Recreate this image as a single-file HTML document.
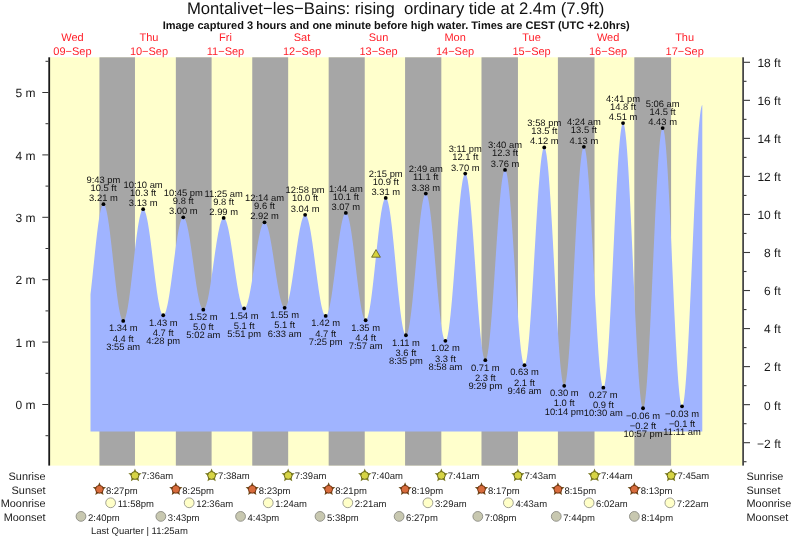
<!DOCTYPE html>
<html><head><meta charset="utf-8"><style>
html,body{margin:0;padding:0;background:#fff;width:793px;height:539px;overflow:hidden}
svg{display:block;will-change:transform}
text{font-family:"Liberation Sans",sans-serif;fill:#222;text-rendering:geometricPrecision}
.title{font-size:16.7px;fill:#111;white-space:pre}
.sub{font-size:11px;font-weight:bold;fill:#111}
.day{font-size:11px;fill:#ff1e28}
.ax{font-size:12px;fill:#1a1a1a}
.tl{font-size:9.4px;fill:#111}
.rl{font-size:10.9px;fill:#222}
.bt{font-size:9.5px;fill:#222}
</style></head><body>
<svg width="793" height="539" viewBox="0 0 793 539">
<rect x="50" y="57.3" width="692.5" height="408.3" fill="#ffffcc"/>
<rect x="99.42" y="57.3" width="35.55" height="408.3" fill="#a6a6a6"/>
<rect x="175.84" y="57.3" width="35.76" height="408.3" fill="#a6a6a6"/>
<rect x="252.25" y="57.3" width="35.92" height="408.3" fill="#a6a6a6"/>
<rect x="328.66" y="57.3" width="36.08" height="408.3" fill="#a6a6a6"/>
<rect x="405.08" y="57.3" width="36.24" height="408.3" fill="#a6a6a6"/>
<rect x="481.49" y="57.3" width="36.45" height="408.3" fill="#a6a6a6"/>
<rect x="557.90" y="57.3" width="36.61" height="408.3" fill="#a6a6a6"/>
<rect x="634.32" y="57.3" width="36.77" height="408.3" fill="#a6a6a6"/>
<path d="M90.50,431.6 L90.50,294.17 L90.94,290.42 L91.37,286.53 L91.81,282.54 L92.25,278.45 L92.69,274.30 L93.12,270.10 L93.56,265.87 L94.00,261.63 L94.43,257.40 L94.87,253.22 L95.31,249.08 L95.74,245.02 L96.18,241.06 L96.62,237.22 L97.05,233.50 L97.49,229.95 L97.93,226.56 L98.37,223.36 L98.80,220.36 L99.24,217.58 L99.68,215.04 L100.11,212.73 L100.55,210.69 L100.99,208.91 L101.42,207.40 L101.86,206.18 L102.30,205.25 L102.74,204.61 L103.17,204.26 L103.61,204.21 L104.05,204.45 L104.48,204.97 L104.92,205.76 L105.36,206.83 L105.79,208.17 L106.23,209.77 L106.67,211.62 L107.11,213.72 L107.54,216.05 L107.98,218.61 L108.42,221.38 L108.85,224.35 L109.29,227.51 L109.73,230.83 L110.16,234.30 L110.60,237.91 L111.04,241.64 L111.48,245.47 L111.91,249.39 L112.35,253.36 L112.79,257.38 L113.22,261.43 L113.66,265.48 L114.10,269.52 L114.53,273.52 L114.97,277.47 L115.41,281.35 L115.85,285.13 L116.28,288.81 L116.72,292.36 L117.16,295.77 L117.59,299.02 L118.03,302.09 L118.47,304.97 L118.91,307.65 L119.34,310.11 L119.78,312.34 L120.22,314.33 L120.65,316.07 L121.09,317.55 L121.53,318.77 L121.96,319.71 L122.40,320.38 L122.84,320.77 L123.28,320.88 L123.71,320.72 L124.15,320.30 L124.59,319.61 L125.02,318.66 L125.46,317.46 L125.90,316.01 L126.33,314.32 L126.77,312.39 L127.21,310.24 L127.64,307.88 L128.08,305.31 L128.52,302.55 L128.96,299.62 L129.39,296.51 L129.83,293.26 L130.27,289.88 L130.70,286.38 L131.14,282.77 L131.58,279.09 L132.01,275.33 L132.45,271.53 L132.89,267.70 L133.33,263.85 L133.76,260.01 L134.20,256.19 L134.64,252.42 L135.07,248.70 L135.51,245.06 L135.95,241.52 L136.38,238.09 L136.82,234.79 L137.26,231.63 L137.70,228.62 L138.13,225.80 L138.57,223.15 L139.01,220.71 L139.44,218.48 L139.88,216.46 L140.32,214.68 L140.75,213.14 L141.19,211.84 L141.63,210.80 L142.07,210.01 L142.50,209.48 L142.94,209.22 L143.38,209.22 L143.81,209.47 L144.25,209.97 L144.69,210.71 L145.12,211.69 L145.56,212.90 L146.00,214.35 L146.44,216.02 L146.87,217.91 L147.31,220.00 L147.75,222.29 L148.18,224.77 L148.62,227.42 L149.06,230.23 L149.50,233.20 L149.93,236.30 L150.37,239.52 L150.81,242.84 L151.24,246.26 L151.68,249.75 L152.12,253.30 L152.55,256.89 L152.99,260.51 L153.43,264.14 L153.87,267.75 L154.30,271.34 L154.74,274.89 L155.18,278.38 L155.61,281.79 L156.05,285.11 L156.49,288.33 L156.92,291.42 L157.36,294.37 L157.80,297.18 L158.23,299.82 L158.67,302.29 L159.11,304.57 L159.55,306.65 L159.98,308.53 L160.42,310.19 L160.86,311.62 L161.29,312.83 L161.73,313.80 L162.17,314.52 L162.60,315.01 L163.04,315.24 L163.48,315.23 L163.92,314.99 L164.35,314.53 L164.79,313.83 L165.23,312.91 L165.66,311.77 L166.10,310.42 L166.54,308.87 L166.97,307.11 L167.41,305.16 L167.85,303.03 L168.29,300.72 L168.72,298.26 L169.16,295.64 L169.60,292.89 L170.03,290.01 L170.47,287.02 L170.91,283.93 L171.34,280.76 L171.78,277.52 L172.22,274.23 L172.66,270.90 L173.09,267.55 L173.53,264.19 L173.97,260.85 L174.40,257.53 L174.84,254.25 L175.28,251.02 L175.72,247.87 L176.15,244.81 L176.59,241.84 L177.03,238.99 L177.46,236.27 L177.90,233.69 L178.34,231.26 L178.77,229.00 L179.21,226.91 L179.65,225.01 L180.08,223.30 L180.52,221.79 L180.96,220.49 L181.40,219.41 L181.83,218.55 L182.27,217.91 L182.71,217.49 L183.14,217.31 L183.58,217.35 L184.02,217.61 L184.45,218.09 L184.89,218.78 L185.33,219.68 L185.77,220.78 L186.20,222.08 L186.64,223.58 L187.08,225.27 L187.51,227.13 L187.95,229.17 L188.39,231.37 L188.82,233.71 L189.26,236.20 L189.70,238.82 L190.14,241.55 L190.57,244.38 L191.01,247.31 L191.45,250.31 L191.88,253.37 L192.32,256.48 L192.76,259.62 L193.19,262.78 L193.63,265.94 L194.07,269.09 L194.51,272.22 L194.94,275.30 L195.38,278.33 L195.82,281.29 L196.25,284.17 L196.69,286.94 L197.13,289.61 L197.56,292.16 L198.00,294.57 L198.44,296.83 L198.88,298.94 L199.31,300.88 L199.75,302.65 L200.19,304.23 L200.62,305.62 L201.06,306.81 L201.50,307.80 L201.93,308.59 L202.37,309.16 L202.81,309.51 L203.25,309.65 L203.68,309.58 L204.12,309.29 L204.56,308.80 L204.99,308.11 L205.43,307.21 L205.87,306.12 L206.30,304.83 L206.74,303.36 L207.18,301.70 L207.62,299.88 L208.05,297.89 L208.49,295.74 L208.93,293.45 L209.36,291.03 L209.80,288.48 L210.24,285.82 L210.67,283.06 L211.11,280.21 L211.55,277.28 L211.99,274.30 L212.42,271.27 L212.86,268.20 L213.30,265.11 L213.73,262.02 L214.17,258.93 L214.61,255.87 L215.04,252.84 L215.48,249.87 L215.92,246.95 L216.36,244.12 L216.79,241.37 L217.23,238.72 L217.67,236.19 L218.10,233.78 L218.54,231.51 L218.98,229.39 L219.41,227.42 L219.85,225.62 L220.29,223.99 L220.73,222.55 L221.16,221.29 L221.60,220.22 L222.04,219.36 L222.47,218.69 L222.91,218.23 L223.35,217.98 L223.78,217.93 L224.22,218.09 L224.66,218.45 L225.10,219.01 L225.53,219.77 L225.97,220.73 L226.41,221.87 L226.84,223.20 L227.28,224.70 L227.72,226.38 L228.15,228.23 L228.59,230.23 L229.03,232.38 L229.47,234.66 L229.90,237.08 L230.34,239.61 L230.78,242.24 L231.21,244.97 L231.65,247.78 L232.09,250.66 L232.52,253.60 L232.96,256.58 L233.40,259.59 L233.84,262.61 L234.27,265.64 L234.71,268.65 L235.15,271.64 L235.58,274.60 L236.02,277.50 L236.46,280.34 L236.89,283.10 L237.33,285.77 L237.77,288.34 L238.21,290.80 L238.64,293.13 L239.08,295.33 L239.52,297.39 L239.95,299.29 L240.39,301.03 L240.83,302.60 L241.26,303.99 L241.70,305.21 L242.14,306.23 L242.58,307.06 L243.01,307.69 L243.45,308.13 L243.89,308.36 L244.32,308.39 L244.76,308.23 L245.20,307.86 L245.63,307.31 L246.07,306.56 L246.51,305.63 L246.95,304.52 L247.38,303.22 L247.82,301.76 L248.26,300.12 L248.69,298.33 L249.13,296.39 L249.57,294.31 L250.00,292.10 L250.44,289.76 L250.88,287.32 L251.32,284.77 L251.75,282.14 L252.19,279.43 L252.63,276.65 L253.06,273.82 L253.50,270.96 L253.94,268.07 L254.38,265.17 L254.81,262.27 L255.25,259.38 L255.69,256.52 L256.12,253.70 L256.56,250.93 L257.00,248.23 L257.43,245.60 L257.87,243.07 L258.31,240.64 L258.74,238.32 L259.18,236.12 L259.62,234.05 L260.06,232.13 L260.49,230.36 L260.93,228.75 L261.37,227.30 L261.80,226.03 L262.24,224.94 L262.68,224.03 L263.11,223.31 L263.55,222.78 L263.99,222.44 L264.43,222.30 L264.86,222.35 L265.30,222.60 L265.74,223.05 L266.17,223.70 L266.61,224.54 L267.05,225.56 L267.48,226.77 L267.92,228.16 L268.36,229.72 L268.80,231.44 L269.23,233.31 L269.67,235.34 L270.11,237.50 L270.54,239.79 L270.98,242.20 L271.42,244.72 L271.86,247.33 L272.29,250.02 L272.73,252.78 L273.17,255.59 L273.60,258.46 L274.04,261.35 L274.48,264.26 L274.91,267.17 L275.35,270.07 L275.79,272.95 L276.22,275.80 L276.66,278.59 L277.10,281.32 L277.54,283.97 L277.97,286.54 L278.41,289.00 L278.85,291.36 L279.28,293.59 L279.72,295.69 L280.16,297.65 L280.59,299.46 L281.03,301.10 L281.47,302.58 L281.91,303.89 L282.34,305.01 L282.78,305.95 L283.22,306.70 L283.65,307.25 L284.09,307.61 L284.53,307.77 L284.96,307.73 L285.40,307.48 L285.84,307.02 L286.28,306.36 L286.71,305.50 L287.15,304.43 L287.59,303.17 L288.02,301.73 L288.46,300.10 L288.90,298.29 L289.33,296.32 L289.77,294.20 L290.21,291.92 L290.65,289.51 L291.08,286.96 L291.52,284.31 L291.96,281.55 L292.39,278.70 L292.83,275.77 L293.27,272.77 L293.70,269.72 L294.14,266.64 L294.58,263.53 L295.02,260.41 L295.45,257.30 L295.89,254.20 L296.33,251.14 L296.76,248.12 L297.20,245.16 L297.64,242.27 L298.07,239.47 L298.51,236.77 L298.95,234.17 L299.39,231.70 L299.82,229.36 L300.26,227.17 L300.70,225.13 L301.13,223.25 L301.57,221.55 L302.01,220.02 L302.44,218.68 L302.88,217.53 L303.32,216.57 L303.76,215.82 L304.19,215.28 L304.63,214.94 L305.07,214.81 L305.50,214.89 L305.94,215.20 L306.38,215.73 L306.81,216.48 L307.25,217.46 L307.69,218.64 L308.13,220.03 L308.56,221.63 L309.00,223.42 L309.44,225.39 L309.87,227.55 L310.31,229.87 L310.75,232.35 L311.18,234.98 L311.62,237.74 L312.06,240.63 L312.50,243.62 L312.93,246.72 L313.37,249.89 L313.81,253.14 L314.24,256.43 L314.68,259.77 L315.12,263.14 L315.55,266.51 L315.99,269.88 L316.43,273.23 L316.87,276.54 L317.30,279.80 L317.74,283.00 L318.18,286.12 L318.61,289.15 L319.05,292.07 L319.49,294.87 L319.92,297.54 L320.36,300.07 L320.80,302.44 L321.24,304.65 L321.67,306.68 L322.11,308.53 L322.55,310.19 L322.98,311.64 L323.42,312.89 L323.86,313.93 L324.29,314.75 L324.73,315.36 L325.17,315.73 L325.61,315.89 L326.04,315.81 L326.48,315.50 L326.92,314.95 L327.35,314.16 L327.79,313.14 L328.23,311.90 L328.66,310.44 L329.10,308.76 L329.54,306.87 L329.98,304.79 L330.41,302.52 L330.85,300.08 L331.29,297.47 L331.72,294.70 L332.16,291.80 L332.60,288.76 L333.03,285.62 L333.47,282.37 L333.91,279.04 L334.35,275.65 L334.78,272.20 L335.22,268.72 L335.66,265.21 L336.09,261.70 L336.53,258.21 L336.97,254.74 L337.40,251.32 L337.84,247.96 L338.28,244.67 L338.72,241.48 L339.15,238.40 L339.59,235.43 L340.03,232.60 L340.46,229.92 L340.90,227.39 L341.34,225.04 L341.77,222.88 L342.21,220.90 L342.65,219.13 L343.09,217.56 L343.52,216.22 L343.96,215.10 L344.40,214.21 L344.83,213.55 L345.27,213.13 L345.71,212.94 L346.14,213.00 L346.58,213.32 L347.02,213.89 L347.46,214.71 L347.89,215.79 L348.33,217.10 L348.77,218.66 L349.20,220.44 L349.64,222.45 L350.08,224.66 L350.51,227.08 L350.95,229.69 L351.39,232.47 L351.83,235.42 L352.26,238.52 L352.70,241.75 L353.14,245.10 L353.57,248.56 L354.01,252.10 L354.45,255.71 L354.88,259.37 L355.32,263.07 L355.76,266.78 L356.20,270.50 L356.63,274.19 L357.07,277.85 L357.51,281.46 L357.94,284.99 L358.38,288.43 L358.82,291.77 L359.25,294.99 L359.69,298.08 L360.13,301.01 L360.57,303.78 L361.00,306.37 L361.44,308.76 L361.88,310.96 L362.31,312.94 L362.75,314.70 L363.19,316.23 L363.62,317.53 L364.06,318.57 L364.50,319.37 L364.94,319.92 L365.37,320.21 L365.81,320.24 L366.25,319.99 L366.68,319.46 L367.12,318.64 L367.56,317.55 L367.99,316.18 L368.43,314.55 L368.87,312.66 L369.31,310.52 L369.74,308.14 L370.18,305.53 L370.62,302.70 L371.05,299.67 L371.49,296.45 L371.93,293.05 L372.36,289.50 L372.80,285.80 L373.24,281.98 L373.68,278.06 L374.11,274.04 L374.55,269.96 L374.99,265.82 L375.42,261.66 L375.86,257.48 L376.30,253.31 L376.73,249.16 L377.17,245.06 L377.61,241.03 L378.05,237.09 L378.48,233.24 L378.92,229.52 L379.36,225.93 L379.79,222.50 L380.23,219.24 L380.67,216.17 L381.10,213.29 L381.54,210.63 L381.98,208.20 L382.42,206.01 L382.85,204.06 L383.29,202.37 L383.73,200.94 L384.16,199.79 L384.60,198.91 L385.04,198.32 L385.47,198.01 L385.91,197.98 L386.35,198.27 L386.79,198.87 L387.22,199.79 L387.66,201.02 L388.10,202.54 L388.53,204.37 L388.97,206.48 L389.41,208.87 L389.84,211.52 L390.28,214.44 L390.72,217.59 L391.16,220.97 L391.59,224.55 L392.03,228.34 L392.47,232.30 L392.90,236.42 L393.34,240.67 L393.78,245.05 L394.21,249.53 L394.65,254.08 L395.09,258.70 L395.53,263.35 L395.96,268.01 L396.40,272.67 L396.84,277.30 L397.27,281.89 L397.71,286.40 L398.15,290.82 L398.58,295.12 L399.02,299.30 L399.46,303.32 L399.90,307.18 L400.33,310.84 L400.77,314.31 L401.21,317.55 L401.64,320.56 L402.08,323.31 L402.52,325.81 L402.95,328.03 L403.39,329.97 L403.83,331.61 L404.27,332.96 L404.70,334.00 L405.14,334.72 L405.58,335.13 L406.01,335.23 L406.45,334.99 L406.89,334.42 L407.32,333.51 L407.76,332.28 L408.20,330.72 L408.64,328.84 L409.07,326.65 L409.51,324.17 L409.95,321.41 L410.38,318.37 L410.82,315.07 L411.26,311.54 L411.69,307.78 L412.13,303.81 L412.57,299.65 L413.01,295.33 L413.44,290.85 L413.88,286.26 L414.32,281.55 L414.75,276.77 L415.19,271.93 L415.63,267.05 L416.06,262.16 L416.50,257.28 L416.94,252.43 L417.38,247.64 L417.81,242.93 L418.25,238.32 L418.69,233.84 L419.12,229.50 L419.56,225.33 L420.00,221.35 L420.43,217.57 L420.87,214.02 L421.31,210.70 L421.75,207.64 L422.18,204.86 L422.62,202.35 L423.06,200.14 L423.49,198.24 L423.93,196.66 L424.37,195.40 L424.80,194.46 L425.24,193.86 L425.68,193.60 L426.12,193.68 L426.55,194.12 L426.99,194.92 L427.43,196.07 L427.86,197.58 L428.30,199.42 L428.74,201.59 L429.17,204.09 L429.61,206.90 L430.05,210.00 L430.49,213.38 L430.92,217.03 L431.36,220.92 L431.80,225.04 L432.23,229.36 L432.67,233.87 L433.11,238.55 L433.54,243.36 L433.98,248.29 L434.42,253.32 L434.86,258.41 L435.29,263.55 L435.73,268.70 L436.17,273.85 L436.60,278.96 L437.04,284.02 L437.48,288.99 L437.91,293.86 L438.35,298.59 L438.79,303.18 L439.23,307.59 L439.66,311.79 L440.10,315.79 L440.54,319.54 L440.97,323.03 L441.41,326.26 L441.85,329.19 L442.28,331.82 L442.72,334.13 L443.16,336.12 L443.60,337.77 L444.03,339.07 L444.47,340.02 L444.91,340.61 L445.34,340.85 L445.78,340.71 L446.22,340.17 L446.65,339.23 L447.09,337.89 L447.53,336.17 L447.97,334.08 L448.40,331.61 L448.84,328.79 L449.28,325.62 L449.71,322.13 L450.15,318.32 L450.59,314.22 L451.02,309.85 L451.46,305.23 L451.90,300.38 L452.34,295.31 L452.77,290.07 L453.21,284.67 L453.65,279.14 L454.08,273.50 L454.52,267.79 L454.96,262.02 L455.39,256.23 L455.83,250.45 L456.27,244.69 L456.71,239.00 L457.14,233.40 L457.58,227.91 L458.02,222.56 L458.45,217.38 L458.89,212.39 L459.33,207.61 L459.76,203.07 L460.20,198.79 L460.64,194.79 L461.08,191.09 L461.51,187.71 L461.95,184.66 L462.39,181.96 L462.82,179.62 L463.26,177.66 L463.70,176.07 L464.13,174.88 L464.57,174.07 L465.01,173.67 L465.45,173.67 L465.88,174.11 L466.32,174.97 L466.76,176.27 L467.19,177.99 L467.63,180.12 L468.07,182.66 L468.50,185.60 L468.94,188.91 L469.38,192.59 L469.82,196.61 L470.25,200.96 L470.69,205.62 L471.13,210.57 L471.56,215.78 L472.00,221.23 L472.44,226.89 L472.87,232.74 L473.31,238.75 L473.75,244.89 L474.19,251.13 L474.62,257.44 L475.06,263.80 L475.50,270.18 L475.93,276.54 L476.37,282.85 L476.81,289.09 L477.24,295.23 L477.68,301.23 L478.12,307.08 L478.56,312.73 L478.99,318.18 L479.43,323.38 L479.87,328.32 L480.30,332.97 L480.74,337.32 L481.18,341.33 L481.61,345.00 L482.05,348.30 L482.49,351.22 L482.93,353.75 L483.36,355.88 L483.80,357.59 L484.24,358.87 L484.67,359.73 L485.11,360.15 L485.55,360.13 L485.98,359.66 L486.42,358.72 L486.86,357.33 L487.30,355.50 L487.73,353.22 L488.17,350.52 L488.61,347.41 L489.04,343.89 L489.48,339.99 L489.92,335.73 L490.35,331.13 L490.79,326.21 L491.23,320.99 L491.67,315.50 L492.10,309.76 L492.54,303.81 L492.98,297.67 L493.41,291.37 L493.85,284.94 L494.29,278.42 L494.72,271.83 L495.16,265.21 L495.60,258.59 L496.04,251.99 L496.47,245.47 L496.91,239.04 L497.35,232.73 L497.78,226.58 L498.22,220.62 L498.66,214.87 L499.09,209.36 L499.53,204.13 L499.97,199.19 L500.41,194.57 L500.84,190.29 L501.28,186.37 L501.72,182.84 L502.15,179.70 L502.59,176.98 L503.03,174.68 L503.46,172.82 L503.90,171.41 L504.34,170.45 L504.78,169.95 L505.21,169.92 L505.65,170.36 L506.09,171.29 L506.52,172.70 L506.96,174.59 L507.40,176.93 L507.83,179.73 L508.27,182.96 L508.71,186.61 L509.15,190.67 L509.58,195.11 L510.02,199.91 L510.46,205.05 L510.89,210.50 L511.33,216.23 L511.77,222.22 L512.20,228.44 L512.64,234.84 L513.08,241.42 L513.52,248.12 L513.95,254.92 L514.39,261.78 L514.83,268.67 L515.26,275.55 L515.70,282.40 L516.14,289.17 L516.57,295.83 L517.01,302.35 L517.45,308.70 L517.89,314.84 L518.32,320.75 L518.76,326.39 L519.20,331.74 L519.63,336.77 L520.07,341.46 L520.51,345.77 L520.94,349.70 L521.38,353.22 L521.82,356.31 L522.26,358.96 L522.69,361.15 L523.13,362.88 L523.57,364.13 L524.00,364.90 L524.44,365.19 L524.88,364.97 L525.31,364.23 L525.75,362.97 L526.19,361.19 L526.63,358.91 L527.06,356.14 L527.50,352.88 L527.94,349.16 L528.37,344.99 L528.81,340.39 L529.25,335.39 L529.68,330.00 L530.12,324.26 L530.56,318.19 L531.00,311.83 L531.43,305.19 L531.87,298.33 L532.31,291.25 L532.74,284.01 L533.18,276.64 L533.62,269.17 L534.05,261.63 L534.49,254.07 L534.93,246.52 L535.37,239.02 L535.80,231.60 L536.24,224.30 L536.68,217.16 L537.11,210.20 L537.55,203.46 L537.99,196.99 L538.42,190.79 L538.86,184.91 L539.30,179.38 L539.74,174.22 L540.17,169.45 L540.61,165.10 L541.05,161.19 L541.48,157.74 L541.92,154.77 L542.36,152.28 L542.79,150.30 L543.23,148.83 L543.67,147.87 L544.11,147.44 L544.54,147.54 L544.98,148.20 L545.42,149.42 L545.85,151.20 L546.29,153.51 L546.73,156.37 L547.16,159.74 L547.60,163.61 L548.04,167.98 L548.48,172.80 L548.91,178.07 L549.35,183.76 L549.79,189.84 L550.22,196.28 L550.66,203.06 L551.10,210.13 L551.53,217.47 L551.97,225.04 L552.41,232.81 L552.85,240.73 L553.28,248.78 L553.72,256.92 L554.16,265.09 L554.59,273.28 L555.03,281.43 L555.47,289.52 L555.90,297.49 L556.34,305.32 L556.78,312.97 L557.22,320.40 L557.65,327.57 L558.09,334.46 L558.53,341.03 L558.96,347.24 L559.40,353.08 L559.84,358.50 L560.27,363.50 L560.71,368.03 L561.15,372.09 L561.59,375.65 L562.02,378.69 L562.46,381.21 L562.90,383.18 L563.33,384.61 L563.77,385.47 L564.21,385.78 L564.64,385.51 L565.08,384.67 L565.52,383.24 L565.96,381.25 L566.39,378.70 L566.83,375.59 L567.27,371.96 L567.70,367.81 L568.14,363.17 L568.58,358.05 L569.01,352.49 L569.45,346.50 L569.89,340.13 L570.33,333.39 L570.76,326.33 L571.20,318.98 L571.64,311.36 L572.07,303.53 L572.51,295.52 L572.95,287.37 L573.38,279.11 L573.82,270.79 L574.26,262.45 L574.70,254.12 L575.13,245.86 L575.57,237.69 L576.01,229.67 L576.44,221.82 L576.88,214.19 L577.32,206.82 L577.75,199.73 L578.19,192.97 L578.63,186.56 L579.07,180.55 L579.50,174.95 L579.94,169.79 L580.38,165.11 L580.81,160.92 L581.25,157.24 L581.69,154.10 L582.12,151.50 L582.56,149.46 L583.00,147.99 L583.44,147.10 L583.87,146.79 L584.31,147.07 L584.75,147.94 L585.18,149.41 L585.62,151.47 L586.06,154.11 L586.50,157.30 L586.93,161.05 L587.37,165.32 L587.81,170.10 L588.24,175.37 L588.68,181.09 L589.12,187.24 L589.55,193.79 L589.99,200.71 L590.43,207.96 L590.87,215.50 L591.30,223.30 L591.74,231.32 L592.18,239.51 L592.61,247.85 L593.05,256.28 L593.49,264.77 L593.92,273.27 L594.36,281.73 L594.80,290.13 L595.24,298.41 L595.67,306.54 L596.11,314.47 L596.55,322.17 L596.98,329.59 L597.42,336.70 L597.86,343.46 L598.29,349.85 L598.73,355.82 L599.17,361.35 L599.60,366.42 L600.04,370.99 L600.48,375.04 L600.92,378.56 L601.35,381.52 L601.79,383.91 L602.23,385.72 L602.66,386.94 L603.10,387.56 L603.54,387.58 L603.97,386.97 L604.41,385.72 L604.85,383.83 L605.29,381.33 L605.72,378.21 L606.16,374.50 L606.60,370.20 L607.03,365.36 L607.47,359.98 L607.91,354.09 L608.34,347.72 L608.78,340.91 L609.22,333.68 L609.66,326.07 L610.09,318.12 L610.53,309.87 L610.97,301.35 L611.40,292.60 L611.84,283.68 L612.28,274.62 L612.72,265.47 L613.15,256.27 L613.59,247.06 L614.03,237.89 L614.46,228.81 L614.90,219.86 L615.34,211.08 L615.77,202.51 L616.21,194.20 L616.65,186.19 L617.09,178.51 L617.52,171.20 L617.96,164.30 L618.40,157.85 L618.83,151.86 L619.27,146.38 L619.71,141.43 L620.14,137.03 L620.58,133.20 L621.02,129.96 L621.45,127.34 L621.89,125.33 L622.33,123.95 L622.77,123.21 L623.20,123.12 L623.64,123.68 L624.08,124.92 L624.51,126.83 L624.95,129.38 L625.39,132.59 L625.82,136.42 L626.26,140.85 L626.70,145.88 L627.14,151.48 L627.57,157.61 L628.01,164.25 L628.45,171.37 L628.88,178.94 L629.32,186.91 L629.76,195.26 L630.19,203.94 L630.63,212.91 L631.07,222.13 L631.51,231.55 L631.94,241.14 L632.38,250.84 L632.82,260.61 L633.25,270.41 L633.69,280.18 L634.13,289.89 L634.56,299.48 L635.00,308.91 L635.44,318.13 L635.88,327.11 L636.31,335.80 L636.75,344.16 L637.19,352.14 L637.62,359.72 L638.06,366.86 L638.50,373.52 L638.93,379.66 L639.37,385.28 L639.81,390.32 L640.25,394.78 L640.68,398.63 L641.12,401.85 L641.56,404.43 L641.99,406.35 L642.43,407.61 L642.87,408.20 L643.30,408.11 L643.74,407.34 L644.18,405.89 L644.62,403.76 L645.05,400.97 L645.49,397.52 L645.93,393.45 L646.36,388.75 L646.80,383.47 L647.24,377.63 L647.67,371.24 L648.11,364.35 L648.55,356.99 L648.99,349.20 L649.42,341.01 L649.86,332.46 L650.30,323.59 L650.73,314.46 L651.17,305.09 L651.61,295.55 L652.04,285.87 L652.48,276.11 L652.92,266.30 L653.36,256.51 L653.79,246.77 L654.23,237.14 L654.67,227.65 L655.10,218.37 L655.54,209.33 L655.98,200.58 L656.41,192.16 L656.85,184.12 L657.29,176.48 L657.73,169.30 L658.16,162.59 L658.60,156.41 L659.04,150.77 L659.47,145.71 L659.91,141.25 L660.35,137.41 L660.78,134.21 L661.22,131.67 L661.66,129.80 L662.10,128.60 L662.53,128.09 L662.97,128.27 L663.41,129.14 L663.84,130.70 L664.28,132.95 L664.72,135.87 L665.15,139.45 L665.59,143.67 L666.03,148.51 L666.47,153.94 L666.90,159.94 L667.34,166.47 L667.78,173.51 L668.21,181.02 L668.65,188.96 L669.09,197.30 L669.52,205.98 L669.96,214.97 L670.40,224.22 L670.84,233.69 L671.27,243.33 L671.71,253.08 L672.15,262.91 L672.58,272.76 L673.02,282.57 L673.46,292.32 L673.89,301.93 L674.33,311.38 L674.77,320.60 L675.21,329.55 L675.64,338.20 L676.08,346.48 L676.52,354.37 L676.95,361.83 L677.39,368.81 L677.83,375.28 L678.26,381.21 L678.70,386.57 L679.14,391.33 L679.58,395.47 L680.01,398.97 L680.45,401.80 L680.89,403.97 L681.32,405.45 L681.76,406.23 L682.20,406.33 L682.63,405.73 L683.07,404.46 L683.51,402.51 L683.95,399.90 L684.38,396.64 L684.82,392.74 L685.26,388.22 L685.69,383.10 L686.13,377.40 L686.57,371.15 L687.00,364.38 L687.44,357.12 L687.88,349.40 L688.32,341.25 L688.75,332.72 L689.19,323.84 L689.63,314.65 L690.06,305.19 L690.50,295.51 L690.94,285.65 L691.38,275.65 L691.81,265.56 L692.25,255.43 L692.69,245.30 L693.12,235.21 L693.56,225.22 L694.00,215.37 L694.43,205.70 L694.87,196.25 L695.31,187.07 L695.74,178.21 L696.18,169.69 L696.62,161.57 L697.06,153.87 L697.49,146.63 L697.93,139.88 L698.37,133.66 L698.80,127.99 L699.24,122.90 L699.68,118.41 L700.11,114.54 L700.55,111.31 L700.99,108.73 L701.43,106.81 L701.86,105.58 L702.30,105.02 L702.30,431.6 Z" fill="#a0b4ff"/>
<rect x="48.3" y="57.3" width="1.8" height="408.3" fill="#1a1a1a"/>
<rect x="742.3" y="57.3" width="1.6" height="408.3" fill="#333"/>
<rect x="45.5" y="435.20" width="3.00" height="1" fill="#333"/>
<rect x="42.3" y="404.00" width="6.20" height="1" fill="#333"/>
<text x="35.6" y="409.20" class="ax" text-anchor="end">0 m</text>
<rect x="45.5" y="372.80" width="3.00" height="1" fill="#333"/>
<rect x="42.3" y="341.60" width="6.20" height="1" fill="#333"/>
<text x="35.6" y="346.80" class="ax" text-anchor="end">1 m</text>
<rect x="45.5" y="310.40" width="3.00" height="1" fill="#333"/>
<rect x="42.3" y="279.20" width="6.20" height="1" fill="#333"/>
<text x="35.6" y="284.40" class="ax" text-anchor="end">2 m</text>
<rect x="45.5" y="248.00" width="3.00" height="1" fill="#333"/>
<rect x="42.3" y="216.80" width="6.20" height="1" fill="#333"/>
<text x="35.6" y="222.00" class="ax" text-anchor="end">3 m</text>
<rect x="45.5" y="185.60" width="3.00" height="1" fill="#333"/>
<rect x="42.3" y="154.40" width="6.20" height="1" fill="#333"/>
<text x="35.6" y="159.60" class="ax" text-anchor="end">4 m</text>
<rect x="45.5" y="123.20" width="3.00" height="1" fill="#333"/>
<rect x="42.3" y="92.00" width="6.20" height="1" fill="#333"/>
<text x="35.6" y="97.20" class="ax" text-anchor="end">5 m</text>
<rect x="45.5" y="60.80" width="3.00" height="1" fill="#333"/>
<rect x="743.5" y="461.16" width="3.00" height="1.1" fill="#3a3a3a"/>
<rect x="743.5" y="442.14" width="6.50" height="1.1" fill="#3a3a3a"/>
<text x="780.8" y="447.54" class="ax" text-anchor="end">−2 ft</text>
<rect x="743.5" y="423.12" width="3.00" height="1.1" fill="#3a3a3a"/>
<rect x="743.5" y="404.10" width="6.50" height="1.1" fill="#3a3a3a"/>
<text x="780.8" y="409.50" class="ax" text-anchor="end">0 ft</text>
<rect x="743.5" y="385.08" width="3.00" height="1.1" fill="#3a3a3a"/>
<rect x="743.5" y="366.06" width="6.50" height="1.1" fill="#3a3a3a"/>
<text x="780.8" y="371.46" class="ax" text-anchor="end">2 ft</text>
<rect x="743.5" y="347.04" width="3.00" height="1.1" fill="#3a3a3a"/>
<rect x="743.5" y="328.02" width="6.50" height="1.1" fill="#3a3a3a"/>
<text x="780.8" y="333.42" class="ax" text-anchor="end">4 ft</text>
<rect x="743.5" y="309.00" width="3.00" height="1.1" fill="#3a3a3a"/>
<rect x="743.5" y="289.98" width="6.50" height="1.1" fill="#3a3a3a"/>
<text x="780.8" y="295.38" class="ax" text-anchor="end">6 ft</text>
<rect x="743.5" y="270.96" width="3.00" height="1.1" fill="#3a3a3a"/>
<rect x="743.5" y="251.94" width="6.50" height="1.1" fill="#3a3a3a"/>
<text x="780.8" y="257.34" class="ax" text-anchor="end">8 ft</text>
<rect x="743.5" y="232.92" width="3.00" height="1.1" fill="#3a3a3a"/>
<rect x="743.5" y="213.90" width="6.50" height="1.1" fill="#3a3a3a"/>
<text x="780.8" y="219.30" class="ax" text-anchor="end">10 ft</text>
<rect x="743.5" y="194.89" width="3.00" height="1.1" fill="#3a3a3a"/>
<rect x="743.5" y="175.87" width="6.50" height="1.1" fill="#3a3a3a"/>
<text x="780.8" y="181.27" class="ax" text-anchor="end">12 ft</text>
<rect x="743.5" y="156.85" width="3.00" height="1.1" fill="#3a3a3a"/>
<rect x="743.5" y="137.83" width="6.50" height="1.1" fill="#3a3a3a"/>
<text x="780.8" y="143.23" class="ax" text-anchor="end">14 ft</text>
<rect x="743.5" y="118.81" width="3.00" height="1.1" fill="#3a3a3a"/>
<rect x="743.5" y="99.79" width="6.50" height="1.1" fill="#3a3a3a"/>
<text x="780.8" y="105.19" class="ax" text-anchor="end">16 ft</text>
<rect x="743.5" y="80.77" width="3.00" height="1.1" fill="#3a3a3a"/>
<rect x="743.5" y="61.75" width="6.50" height="1.1" fill="#3a3a3a"/>
<text x="780.8" y="67.15" class="ax" text-anchor="end">18 ft</text>
<text x="72.48" y="40.9" class="day" text-anchor="middle">Wed</text>
<text x="72.48" y="54.6" class="day" text-anchor="middle">09−Sep</text>
<text x="149.00" y="40.9" class="day" text-anchor="middle">Thu</text>
<text x="149.00" y="54.6" class="day" text-anchor="middle">10−Sep</text>
<text x="225.52" y="40.9" class="day" text-anchor="middle">Fri</text>
<text x="225.52" y="54.6" class="day" text-anchor="middle">11−Sep</text>
<text x="302.04" y="40.9" class="day" text-anchor="middle">Sat</text>
<text x="302.04" y="54.6" class="day" text-anchor="middle">12−Sep</text>
<text x="378.56" y="40.9" class="day" text-anchor="middle">Sun</text>
<text x="378.56" y="54.6" class="day" text-anchor="middle">13−Sep</text>
<text x="455.08" y="40.9" class="day" text-anchor="middle">Mon</text>
<text x="455.08" y="54.6" class="day" text-anchor="middle">14−Sep</text>
<text x="531.60" y="40.9" class="day" text-anchor="middle">Tue</text>
<text x="531.60" y="54.6" class="day" text-anchor="middle">15−Sep</text>
<text x="608.12" y="40.9" class="day" text-anchor="middle">Wed</text>
<text x="608.12" y="54.6" class="day" text-anchor="middle">16−Sep</text>
<text x="684.64" y="40.9" class="day" text-anchor="middle">Thu</text>
<text x="684.64" y="54.6" class="day" text-anchor="middle">17−Sep</text>
<text x="103.46" y="182.80" class="tl" text-anchor="middle">9:43 pm</text>
<text x="103.46" y="190.80" class="tl" text-anchor="middle">10.5 ft</text>
<text x="103.46" y="201.20" class="tl" text-anchor="middle">3.21 m</text>
<circle cx="103.46" cy="204.20" r="1.9" fill="#000"/>
<text x="143.15" y="187.79" class="tl" text-anchor="middle">10:10 am</text>
<text x="143.15" y="195.79" class="tl" text-anchor="middle">10.3 ft</text>
<text x="143.15" y="206.19" class="tl" text-anchor="middle">3.13 m</text>
<circle cx="143.15" cy="209.19" r="1.9" fill="#000"/>
<text x="183.27" y="195.90" class="tl" text-anchor="middle">10:45 pm</text>
<text x="183.27" y="203.90" class="tl" text-anchor="middle">9.8 ft</text>
<text x="183.27" y="214.30" class="tl" text-anchor="middle">3.00 m</text>
<circle cx="183.27" cy="217.30" r="1.9" fill="#000"/>
<text x="223.66" y="196.52" class="tl" text-anchor="middle">11:25 am</text>
<text x="223.66" y="204.52" class="tl" text-anchor="middle">9.8 ft</text>
<text x="223.66" y="214.92" class="tl" text-anchor="middle">2.99 m</text>
<circle cx="223.66" cy="217.92" r="1.9" fill="#000"/>
<text x="264.52" y="200.89" class="tl" text-anchor="middle">12:14 am</text>
<text x="264.52" y="208.89" class="tl" text-anchor="middle">9.6 ft</text>
<text x="264.52" y="219.29" class="tl" text-anchor="middle">2.92 m</text>
<circle cx="264.52" cy="222.29" r="1.9" fill="#000"/>
<text x="305.12" y="193.40" class="tl" text-anchor="middle">12:58 pm</text>
<text x="305.12" y="201.40" class="tl" text-anchor="middle">10.0 ft</text>
<text x="305.12" y="211.80" class="tl" text-anchor="middle">3.04 m</text>
<circle cx="305.12" cy="214.80" r="1.9" fill="#000"/>
<text x="345.83" y="191.53" class="tl" text-anchor="middle">1:44 am</text>
<text x="345.83" y="199.53" class="tl" text-anchor="middle">10.1 ft</text>
<text x="345.83" y="209.93" class="tl" text-anchor="middle">3.07 m</text>
<circle cx="345.83" cy="212.93" r="1.9" fill="#000"/>
<text x="385.73" y="176.56" class="tl" text-anchor="middle">2:15 pm</text>
<text x="385.73" y="184.56" class="tl" text-anchor="middle">10.9 ft</text>
<text x="385.73" y="194.96" class="tl" text-anchor="middle">3.31 m</text>
<circle cx="385.73" cy="197.96" r="1.9" fill="#000"/>
<text x="425.80" y="172.19" class="tl" text-anchor="middle">2:49 am</text>
<text x="425.80" y="180.19" class="tl" text-anchor="middle">11.1 ft</text>
<text x="425.80" y="190.59" class="tl" text-anchor="middle">3.38 m</text>
<circle cx="425.80" cy="193.59" r="1.9" fill="#000"/>
<text x="465.23" y="152.22" class="tl" text-anchor="middle">3:11 pm</text>
<text x="465.23" y="160.22" class="tl" text-anchor="middle">12.1 ft</text>
<text x="465.23" y="170.62" class="tl" text-anchor="middle">3.70 m</text>
<circle cx="465.23" cy="173.62" r="1.9" fill="#000"/>
<text x="505.03" y="148.48" class="tl" text-anchor="middle">3:40 am</text>
<text x="505.03" y="156.48" class="tl" text-anchor="middle">12.3 ft</text>
<text x="505.03" y="166.88" class="tl" text-anchor="middle">3.76 m</text>
<circle cx="505.03" cy="169.88" r="1.9" fill="#000"/>
<text x="544.25" y="126.01" class="tl" text-anchor="middle">3:58 pm</text>
<text x="544.25" y="134.01" class="tl" text-anchor="middle">13.5 ft</text>
<text x="544.25" y="144.41" class="tl" text-anchor="middle">4.12 m</text>
<circle cx="544.25" cy="147.41" r="1.9" fill="#000"/>
<text x="583.89" y="125.39" class="tl" text-anchor="middle">4:24 am</text>
<text x="583.89" y="133.39" class="tl" text-anchor="middle">13.5 ft</text>
<text x="583.89" y="143.79" class="tl" text-anchor="middle">4.13 m</text>
<circle cx="583.89" cy="146.79" r="1.9" fill="#000"/>
<text x="623.05" y="101.68" class="tl" text-anchor="middle">4:41 pm</text>
<text x="623.05" y="109.68" class="tl" text-anchor="middle">14.8 ft</text>
<text x="623.05" y="120.08" class="tl" text-anchor="middle">4.51 m</text>
<circle cx="623.05" cy="123.08" r="1.9" fill="#000"/>
<text x="662.64" y="106.67" class="tl" text-anchor="middle">5:06 am</text>
<text x="662.64" y="114.67" class="tl" text-anchor="middle">14.5 ft</text>
<text x="662.64" y="125.07" class="tl" text-anchor="middle">4.43 m</text>
<circle cx="662.64" cy="128.07" r="1.9" fill="#000"/>
<text x="123.23" y="331.18" class="tl" text-anchor="middle">1.34 m</text>
<text x="123.23" y="341.58" class="tl" text-anchor="middle">4.4 ft</text>
<text x="123.23" y="349.68" class="tl" text-anchor="middle">3:55 am</text>
<circle cx="123.23" cy="320.88" r="1.9" fill="#000"/>
<text x="163.24" y="325.57" class="tl" text-anchor="middle">1.43 m</text>
<text x="163.24" y="335.97" class="tl" text-anchor="middle">4.7 ft</text>
<text x="163.24" y="344.07" class="tl" text-anchor="middle">4:28 pm</text>
<circle cx="163.24" cy="315.27" r="1.9" fill="#000"/>
<text x="203.31" y="319.95" class="tl" text-anchor="middle">1.52 m</text>
<text x="203.31" y="330.35" class="tl" text-anchor="middle">5.0 ft</text>
<text x="203.31" y="338.45" class="tl" text-anchor="middle">5:02 am</text>
<circle cx="203.31" cy="309.65" r="1.9" fill="#000"/>
<text x="244.17" y="318.70" class="tl" text-anchor="middle">1.54 m</text>
<text x="244.17" y="329.10" class="tl" text-anchor="middle">5.1 ft</text>
<text x="244.17" y="337.20" class="tl" text-anchor="middle">5:51 pm</text>
<circle cx="244.17" cy="308.40" r="1.9" fill="#000"/>
<text x="284.66" y="318.08" class="tl" text-anchor="middle">1.55 m</text>
<text x="284.66" y="328.48" class="tl" text-anchor="middle">5.1 ft</text>
<text x="284.66" y="336.58" class="tl" text-anchor="middle">6:33 am</text>
<circle cx="284.66" cy="307.78" r="1.9" fill="#000"/>
<text x="325.69" y="326.19" class="tl" text-anchor="middle">1.42 m</text>
<text x="325.69" y="336.59" class="tl" text-anchor="middle">4.7 ft</text>
<text x="325.69" y="344.69" class="tl" text-anchor="middle">7:25 pm</text>
<circle cx="325.69" cy="315.89" r="1.9" fill="#000"/>
<text x="365.65" y="330.56" class="tl" text-anchor="middle">1.35 m</text>
<text x="365.65" y="340.96" class="tl" text-anchor="middle">4.4 ft</text>
<text x="365.65" y="349.06" class="tl" text-anchor="middle">7:57 am</text>
<circle cx="365.65" cy="320.26" r="1.9" fill="#000"/>
<text x="405.93" y="345.54" class="tl" text-anchor="middle">1.11 m</text>
<text x="405.93" y="355.94" class="tl" text-anchor="middle">3.6 ft</text>
<text x="405.93" y="364.04" class="tl" text-anchor="middle">8:35 pm</text>
<circle cx="405.93" cy="335.24" r="1.9" fill="#000"/>
<text x="445.41" y="351.15" class="tl" text-anchor="middle">1.02 m</text>
<text x="445.41" y="361.55" class="tl" text-anchor="middle">3.3 ft</text>
<text x="445.41" y="369.65" class="tl" text-anchor="middle">8:58 am</text>
<circle cx="445.41" cy="340.85" r="1.9" fill="#000"/>
<text x="485.32" y="370.50" class="tl" text-anchor="middle">0.71 m</text>
<text x="485.32" y="380.90" class="tl" text-anchor="middle">2.3 ft</text>
<text x="485.32" y="389.00" class="tl" text-anchor="middle">9:29 pm</text>
<circle cx="485.32" cy="360.20" r="1.9" fill="#000"/>
<text x="524.48" y="375.49" class="tl" text-anchor="middle">0.63 m</text>
<text x="524.48" y="385.89" class="tl" text-anchor="middle">2.1 ft</text>
<text x="524.48" y="393.99" class="tl" text-anchor="middle">9:46 am</text>
<circle cx="524.48" cy="365.19" r="1.9" fill="#000"/>
<text x="564.23" y="396.08" class="tl" text-anchor="middle">0.30 m</text>
<text x="564.23" y="406.48" class="tl" text-anchor="middle">1.0 ft</text>
<text x="564.23" y="414.58" class="tl" text-anchor="middle">10:14 pm</text>
<circle cx="564.23" cy="385.78" r="1.9" fill="#000"/>
<text x="603.34" y="397.95" class="tl" text-anchor="middle">0.27 m</text>
<text x="603.34" y="408.35" class="tl" text-anchor="middle">0.9 ft</text>
<text x="603.34" y="416.45" class="tl" text-anchor="middle">10:30 am</text>
<circle cx="603.34" cy="387.65" r="1.9" fill="#000"/>
<text x="643.03" y="418.54" class="tl" text-anchor="middle">−0.06 m</text>
<text x="643.03" y="428.94" class="tl" text-anchor="middle">−0.2 ft</text>
<text x="643.03" y="437.04" class="tl" text-anchor="middle">10:57 pm</text>
<circle cx="643.03" cy="408.24" r="1.9" fill="#000"/>
<text x="682.04" y="416.67" class="tl" text-anchor="middle">−0.03 m</text>
<text x="682.04" y="427.07" class="tl" text-anchor="middle">−0.1 ft</text>
<text x="682.04" y="435.17" class="tl" text-anchor="middle">11:11 am</text>
<circle cx="682.04" cy="406.37" r="1.9" fill="#000"/>
<polygon points="376,249.6 371.6,257.2 380.4,257.2" fill="#d6d23e" stroke="#5a5a1a" stroke-width="0.8"/>
<text x="395.6" y="13.9" class="title" text-anchor="middle">Montalivet−les−Bains: rising  ordinary tide at 2.4m (7.9ft)</text>
<text x="396.2" y="28.7" class="sub" text-anchor="middle">Image captured 3 hours and one minute before high water. Times are CEST (UTC +2.0hrs)</text>
<text x="45.5" y="479.9" class="rl" text-anchor="end">Sunrise</text>
<text x="746.5" y="479.9" class="rl">Sunrise</text>
<text x="45.5" y="493.8" class="rl" text-anchor="end">Sunset</text>
<text x="746.5" y="493.8" class="rl">Sunset</text>
<text x="45.5" y="507.4" class="rl" text-anchor="end">Moonrise</text>
<text x="746.5" y="507.4" class="rl">Moonrise</text>
<text x="45.5" y="521.0" class="rl" text-anchor="end">Moonset</text>
<text x="746.5" y="521.0" class="rl">Moonset</text>
<polygon points="134.97,468.50 136.85,472.91 141.63,473.34 138.01,476.49 139.09,481.16 134.97,478.70 130.86,481.16 131.93,476.49 128.31,473.34 133.09,472.91" fill="#7a7a22"/>
<circle cx="134.97" cy="475.5" r="3.9" fill="#d6d444" stroke="#5e5e18" stroke-width="0.9"/>
<text x="141.47" y="479.4" class="bt">7:36am</text>
<polygon points="211.60,468.50 213.48,472.91 218.26,473.34 214.64,476.49 215.71,481.16 211.60,478.70 207.48,481.16 208.55,476.49 204.94,473.34 209.72,472.91" fill="#7a7a22"/>
<circle cx="211.60" cy="475.5" r="3.9" fill="#d6d444" stroke="#5e5e18" stroke-width="0.9"/>
<text x="218.10" y="479.4" class="bt">7:38am</text>
<polygon points="288.17,468.50 290.05,472.91 294.83,473.34 291.21,476.49 292.29,481.16 288.17,478.70 284.06,481.16 285.13,476.49 281.51,473.34 286.29,472.91" fill="#7a7a22"/>
<circle cx="288.17" cy="475.5" r="3.9" fill="#d6d444" stroke="#5e5e18" stroke-width="0.9"/>
<text x="294.67" y="479.4" class="bt">7:39am</text>
<polygon points="364.74,468.50 366.62,472.91 371.40,473.34 367.79,476.49 368.86,481.16 364.74,478.70 360.63,481.16 361.70,476.49 358.09,473.34 362.86,472.91" fill="#7a7a22"/>
<circle cx="364.74" cy="475.5" r="3.9" fill="#d6d444" stroke="#5e5e18" stroke-width="0.9"/>
<text x="371.24" y="479.4" class="bt">7:40am</text>
<polygon points="441.32,468.50 443.20,472.91 447.97,473.34 444.36,476.49 445.43,481.16 441.32,478.70 437.20,481.16 438.27,476.49 434.66,473.34 439.44,472.91" fill="#7a7a22"/>
<circle cx="441.32" cy="475.5" r="3.9" fill="#d6d444" stroke="#5e5e18" stroke-width="0.9"/>
<text x="447.82" y="479.4" class="bt">7:41am</text>
<polygon points="517.94,468.50 519.82,472.91 524.60,473.34 520.99,476.49 522.06,481.16 517.94,478.70 513.83,481.16 514.90,476.49 511.29,473.34 516.06,472.91" fill="#7a7a22"/>
<circle cx="517.94" cy="475.5" r="3.9" fill="#d6d444" stroke="#5e5e18" stroke-width="0.9"/>
<text x="524.44" y="479.4" class="bt">7:43am</text>
<polygon points="594.52,468.50 596.40,472.91 601.17,473.34 597.56,476.49 598.63,481.16 594.52,478.70 590.40,481.16 591.47,476.49 587.86,473.34 592.64,472.91" fill="#7a7a22"/>
<circle cx="594.52" cy="475.5" r="3.9" fill="#d6d444" stroke="#5e5e18" stroke-width="0.9"/>
<text x="601.02" y="479.4" class="bt">7:44am</text>
<polygon points="671.09,468.50 672.97,472.91 677.75,473.34 674.13,476.49 675.20,481.16 671.09,478.70 666.98,481.16 668.05,476.49 664.43,473.34 669.21,472.91" fill="#7a7a22"/>
<circle cx="671.09" cy="475.5" r="3.9" fill="#d6d444" stroke="#5e5e18" stroke-width="0.9"/>
<text x="677.59" y="479.4" class="bt">7:45am</text>
<polygon points="99.42,482.30 101.30,486.71 106.08,487.14 102.46,490.29 103.54,494.96 99.42,492.50 95.31,494.96 96.38,490.29 92.76,487.14 97.54,486.71" fill="#6a4a18"/>
<circle cx="99.42" cy="489.3" r="3.9" fill="#d86c3c" stroke="#6a3010" stroke-width="0.9"/>
<text x="105.92" y="493.7" class="bt">8:27pm</text>
<polygon points="175.84,482.30 177.72,486.71 182.49,487.14 178.88,490.29 179.95,494.96 175.84,492.50 171.72,494.96 172.79,490.29 169.18,487.14 173.95,486.71" fill="#6a4a18"/>
<circle cx="175.84" cy="489.3" r="3.9" fill="#d86c3c" stroke="#6a3010" stroke-width="0.9"/>
<text x="182.34" y="493.7" class="bt">8:25pm</text>
<polygon points="252.25,482.30 254.13,486.71 258.91,487.14 255.29,490.29 256.36,494.96 252.25,492.50 248.13,494.96 249.21,490.29 245.59,487.14 250.37,486.71" fill="#6a4a18"/>
<circle cx="252.25" cy="489.3" r="3.9" fill="#d86c3c" stroke="#6a3010" stroke-width="0.9"/>
<text x="258.75" y="493.7" class="bt">8:23pm</text>
<polygon points="328.66,482.30 330.54,486.71 335.32,487.14 331.71,490.29 332.78,494.96 328.66,492.50 324.55,494.96 325.62,490.29 322.01,487.14 326.78,486.71" fill="#6a4a18"/>
<circle cx="328.66" cy="489.3" r="3.9" fill="#d86c3c" stroke="#6a3010" stroke-width="0.9"/>
<text x="335.16" y="493.7" class="bt">8:21pm</text>
<polygon points="405.08,482.30 406.96,486.71 411.73,487.14 408.12,490.29 409.19,494.96 405.08,492.50 400.96,494.96 402.03,490.29 398.42,487.14 403.20,486.71" fill="#6a4a18"/>
<circle cx="405.08" cy="489.3" r="3.9" fill="#d86c3c" stroke="#6a3010" stroke-width="0.9"/>
<text x="411.58" y="493.7" class="bt">8:19pm</text>
<polygon points="481.49,482.30 483.37,486.71 488.15,487.14 484.53,490.29 485.60,494.96 481.49,492.50 477.38,494.96 478.45,490.29 474.83,487.14 479.61,486.71" fill="#6a4a18"/>
<circle cx="481.49" cy="489.3" r="3.9" fill="#d86c3c" stroke="#6a3010" stroke-width="0.9"/>
<text x="487.99" y="493.7" class="bt">8:17pm</text>
<polygon points="557.90,482.30 559.78,486.71 564.56,487.14 560.95,490.29 562.02,494.96 557.90,492.50 553.79,494.96 554.86,490.29 551.25,487.14 556.02,486.71" fill="#6a4a18"/>
<circle cx="557.90" cy="489.3" r="3.9" fill="#d86c3c" stroke="#6a3010" stroke-width="0.9"/>
<text x="564.40" y="493.7" class="bt">8:15pm</text>
<polygon points="634.32,482.30 636.20,486.71 640.97,487.14 637.36,490.29 638.43,494.96 634.32,492.50 630.20,494.96 631.27,490.29 627.66,487.14 632.44,486.71" fill="#6a4a18"/>
<circle cx="634.32" cy="489.3" r="3.9" fill="#d86c3c" stroke="#6a3010" stroke-width="0.9"/>
<text x="640.82" y="493.7" class="bt">8:13pm</text>
<circle cx="110.63" cy="502.8" r="4.9" fill="#ffffc8" stroke="#8a8a80" stroke-width="0.8"/>
<text x="117.63" y="507.3" class="bt">11:58pm</text>
<circle cx="189.17" cy="502.8" r="4.9" fill="#ffffc8" stroke="#8a8a80" stroke-width="0.8"/>
<text x="196.17" y="507.3" class="bt">12:36am</text>
<circle cx="268.24" cy="502.8" r="4.9" fill="#ffffc8" stroke="#8a8a80" stroke-width="0.8"/>
<text x="275.24" y="507.3" class="bt">1:24am</text>
<circle cx="347.79" cy="502.8" r="4.9" fill="#ffffc8" stroke="#8a8a80" stroke-width="0.8"/>
<text x="354.79" y="507.3" class="bt">2:21am</text>
<circle cx="427.93" cy="502.8" r="4.9" fill="#ffffc8" stroke="#8a8a80" stroke-width="0.8"/>
<text x="434.93" y="507.3" class="bt">3:29am</text>
<circle cx="508.38" cy="502.8" r="4.9" fill="#ffffc8" stroke="#8a8a80" stroke-width="0.8"/>
<text x="515.38" y="507.3" class="bt">4:43am</text>
<circle cx="589.10" cy="502.8" r="4.9" fill="#ffffc8" stroke="#8a8a80" stroke-width="0.8"/>
<text x="596.10" y="507.3" class="bt">6:02am</text>
<circle cx="669.87" cy="502.8" r="4.9" fill="#ffffc8" stroke="#8a8a80" stroke-width="0.8"/>
<text x="676.87" y="507.3" class="bt">7:22am</text>
<circle cx="80.98" cy="516.4" r="4.9" fill="#c8c8b0" stroke="#808078" stroke-width="0.8"/>
<text x="87.98" y="520.8" class="bt">2:40pm</text>
<circle cx="160.85" cy="516.4" r="4.9" fill="#c8c8b0" stroke="#808078" stroke-width="0.8"/>
<text x="167.85" y="520.8" class="bt">3:43pm</text>
<circle cx="240.56" cy="516.4" r="4.9" fill="#c8c8b0" stroke="#808078" stroke-width="0.8"/>
<text x="247.56" y="520.8" class="bt">4:43pm</text>
<circle cx="320.00" cy="516.4" r="4.9" fill="#c8c8b0" stroke="#808078" stroke-width="0.8"/>
<text x="327.00" y="520.8" class="bt">5:38pm</text>
<circle cx="399.12" cy="516.4" r="4.9" fill="#c8c8b0" stroke="#808078" stroke-width="0.8"/>
<text x="406.12" y="520.8" class="bt">6:27pm</text>
<circle cx="477.82" cy="516.4" r="4.9" fill="#c8c8b0" stroke="#808078" stroke-width="0.8"/>
<text x="484.82" y="520.8" class="bt">7:08pm</text>
<circle cx="556.26" cy="516.4" r="4.9" fill="#c8c8b0" stroke="#808078" stroke-width="0.8"/>
<text x="563.26" y="520.8" class="bt">7:44pm</text>
<circle cx="634.37" cy="516.4" r="4.9" fill="#c8c8b0" stroke="#808078" stroke-width="0.8"/>
<text x="641.37" y="520.8" class="bt">8:14pm</text>
<text x="91" y="533.5" class="bt" style="font-size:9.5px">Last Quarter | 11:25am</text>
</svg>
</body></html>
